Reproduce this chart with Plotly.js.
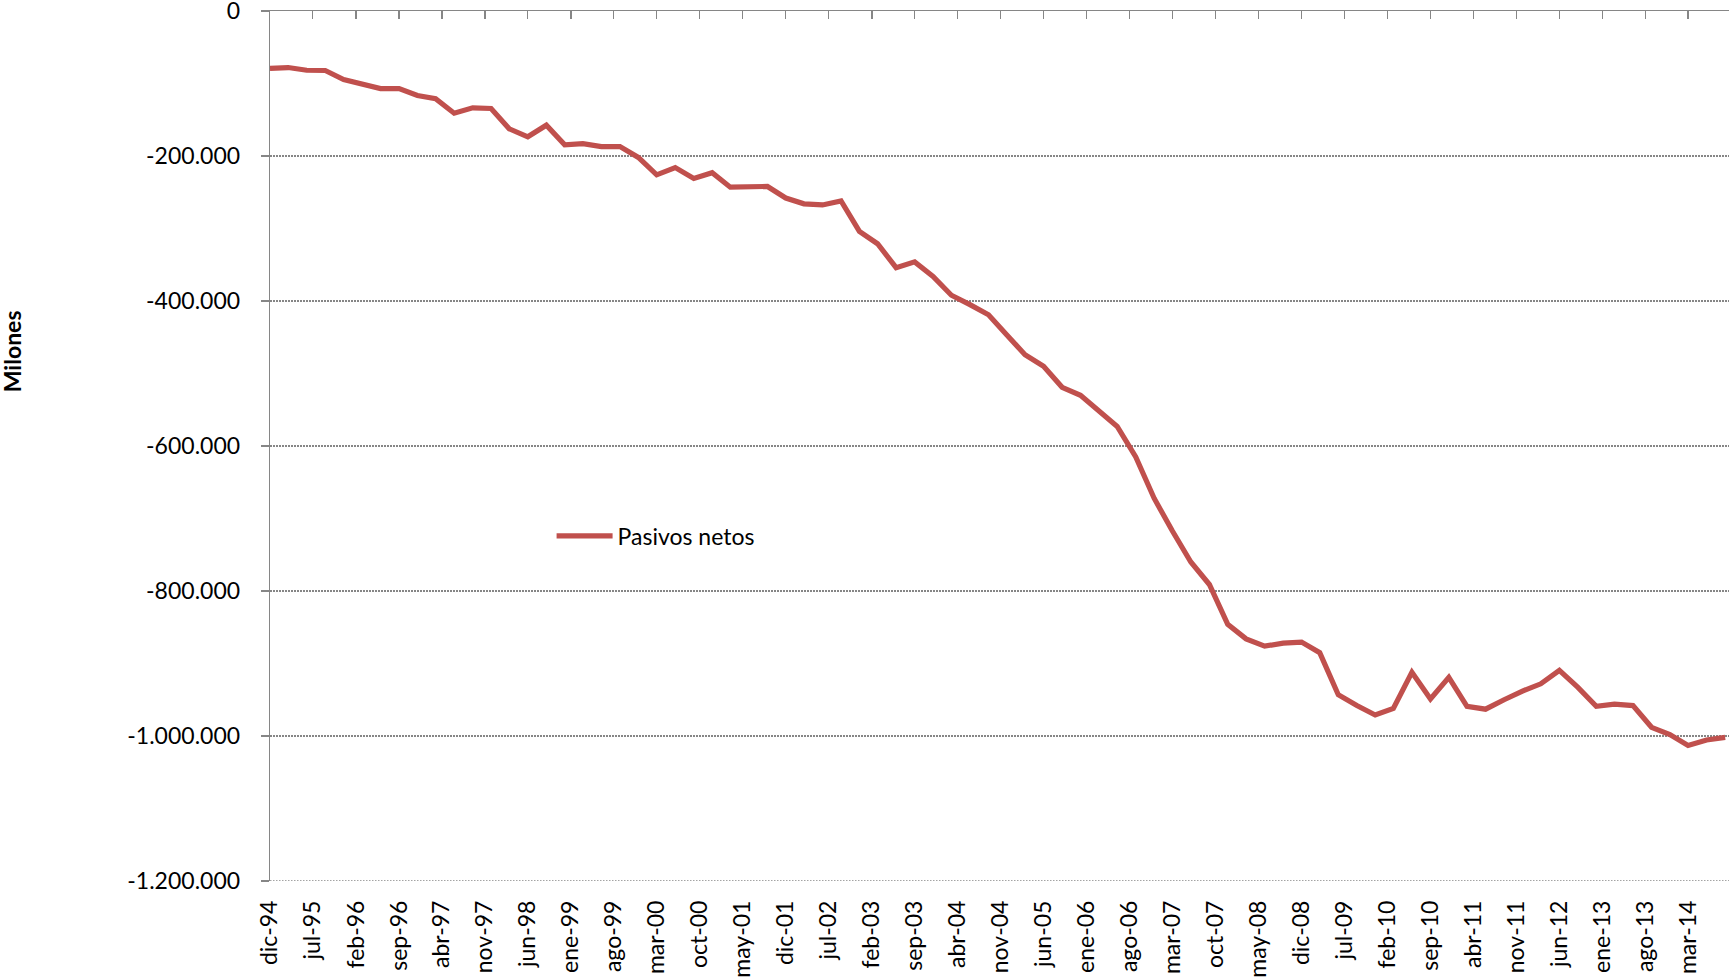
<!DOCTYPE html>
<html><head><meta charset="utf-8">
<script src="https://cdn.plot.ly/plotly-3.0.1.min.js"></script>
<style>html,body{margin:0;padding:0;background:#fff}#chart{width:1729px;height:980px}</style>
</head><body><div id="chart"></div>
<script>
// Quarterly dates (dic-94 .. sep-14)
const quarters = [
  "1994-12",
  "1995-03","1995-06","1995-09","1995-12",
  "1996-03","1996-06","1996-09","1996-12",
  "1997-03","1997-06","1997-09","1997-12",
  "1998-03","1998-06","1998-09","1998-12",
  "1999-03","1999-06","1999-09","1999-12",
  "2000-03","2000-06","2000-09","2000-12",
  "2001-03","2001-06","2001-09","2001-12",
  "2002-03","2002-06","2002-09","2002-12",
  "2003-03","2003-06","2003-09","2003-12",
  "2004-03","2004-06","2004-09","2004-12",
  "2005-03","2005-06","2005-09","2005-12",
  "2006-03","2006-06","2006-09","2006-12",
  "2007-03","2007-06","2007-09","2007-12",
  "2008-03","2008-06","2008-09","2008-12",
  "2009-03","2009-06","2009-09","2009-12",
  "2010-03","2010-06","2010-09","2010-12",
  "2011-03","2011-06","2011-09","2011-12",
  "2012-03","2012-06","2012-09","2012-12",
  "2013-03","2013-06","2013-09","2013-12",
  "2014-03","2014-06","2014-09"
];

// Pasivos netos (millones)
const pasivosNetos = [
  -79000,
  -78000, -81700, -82100, -94500,
  -101000, -107000, -107000, -116500,
  -121000, -141000, -133500, -134500,
  -162500, -173500, -157500, -184500,
  -183000, -187000, -187000, -202000,
  -226000, -216000, -231000, -223000,
  -243000, -243000, -242000, -258000,
  -266000, -267500, -262000, -304000,
  -321000, -354000, -346000, -366000,
  -392000, -405000, -419000, -447000,
  -474000, -490000, -519000, -530000,
  -551000, -573000, -615000, -672000,
  -717000, -760000, -791000, -846000,
  -866000, -876000, -872000, -870500,
  -885000, -943000, -958000, -971000,
  -962000, -912000, -949000, -919000,
  -959000, -963000, -950000, -938000,
  -928000, -909500, -933000, -959000,
  -956000, -958000, -988000, -998000,
  -1013000, -1005500, -1002000
];

const seriesName = "Pasivos netos";
const yTitle = "Milones";

const xTickLabels = ["dic-94","jul-95","feb-96","sep-96","abr-97","nov-97","jun-98","ene-99","ago-99",
  "mar-00","oct-00","may-01","dic-01","jul-02","feb-03","sep-03","abr-04","nov-04","jun-05","ene-06",
  "ago-06","mar-07","oct-07","may-08","dic-08","jul-09","feb-10","sep-10","abr-11","nov-11","jun-12",
  "ene-13","ago-13","mar-14"];

const yTickVals = [0, -200000, -400000, -600000, -800000, -1000000, -1200000];
const yTickText = ["0", "-200.000", "-400.000", "-600.000", "-800.000", "-1.000.000", "-1.200.000"];

const monthMap = {ene:1,feb:2,mar:3,abr:4,may:5,jun:6,jul:7,ago:8,sep:9,oct:10,nov:11,dic:12};
const xTickVals = xTickLabels.map(function(l){
  const p = l.split("-");
  const yy = parseInt(p[1], 10);
  const year = yy >= 50 ? 1900 + yy : 2000 + yy;
  const m = monthMap[p[0]];
  return year + "-" + (m < 10 ? "0" + m : m) + "-01";
});

const xRange = ["1994-12-01", "2014-09-20"];
const yMin = Math.min.apply(null, yTickVals);
const yMax = Math.max.apply(null, yTickVals);
const axisGray = "#868686";
const gridDash = "1.5px,1.5px";
const fontFam = "Lato, 'Open Sans', sans-serif";

const trace = {
  type: "scatter", mode: "lines",
  x: quarters, y: pasivosNetos, name: seriesName,
  line: {color: "#C0504D", width: 5.2},
  showlegend: true
};

// invisible helper trace so that the top (x2) axis with its tick marks is drawn
const axisHelper = {
  type: "scatter", mode: "lines", xaxis: "x2", yaxis: "y",
  x: quarters, y: pasivosNetos, opacity: 0,
  line: {width: 0}, showlegend: false, hoverinfo: "skip"
};

const layout = {
  width: 1729, height: 980,
  margin: {l: 270, r: 0, t: 11, b: 99, pad: 0},
  paper_bgcolor: "#fff", plot_bgcolor: "#fff",
  font: {family: fontFam, size: 23, color: "#000"},
  showlegend: true,
  xaxis: {
    type: "date", range: xRange,
    tickmode: "array", tickvals: xTickVals, ticktext: xTickLabels,
    tickangle: -90, ticks: "", showgrid: false, showline: false, zeroline: false,
    tickfont: {family: fontFam, size: 23, color: "#000"},
    ticklabelstandoff: 14
  },
  xaxis2: {
    type: "date", range: xRange, overlaying: "x", anchor: "y", side: "top",
    tickmode: "array", tickvals: xTickVals,
    ticks: "inside", ticklen: 8, tickwidth: 1.3, tickcolor: axisGray,
    showticklabels: false, showline: true, linecolor: axisGray, linewidth: 1.3,
    showgrid: false, zeroline: false
  },
  yaxis: {
    range: [yMin, yMax],
    tickmode: "array", tickvals: yTickVals, ticktext: yTickText,
    ticks: "outside", ticklen: 8, tickwidth: 1.3, tickcolor: axisGray,
    showline: true, linecolor: axisGray, linewidth: 1.3,
    showgrid: true, gridcolor: axisGray, gridwidth: 1.3, griddash: gridDash,
    zeroline: false,
    tickfont: {family: fontFam, size: 23, color: "#000"},
    ticklabelstandoff: 16,
    ticklabeloverflow: "allow"
  },
  shapes: [{
    type: "line", xref: "paper", yref: "y", layer: "below",
    x0: 0, x1: 1, y0: yMin, y1: yMin,
    line: {color: axisGray, width: 1.3, dash: gridDash}
  }],
  legend: {
    x: 0.193, y: 0.3966, xanchor: "left", yanchor: "middle",
    bgcolor: "rgba(0,0,0,0)", borderwidth: 0,
    font: {family: fontFam, size: 23, color: "#000"},
    itemwidth: 56
  },
  annotations: [{
    text: "<b>" + yTitle + "</b>", xref: "paper", yref: "paper",
    x: -0.1768, y: 0.609, xanchor: "center", yanchor: "middle",
    textangle: -90, showarrow: false,
    font: {family: fontFam, size: 23, color: "#000"}
  }]
};

Plotly.newPlot("chart", [trace, axisHelper], layout, {displayModeBar: false, staticPlot: true});
</script>
</body></html>
